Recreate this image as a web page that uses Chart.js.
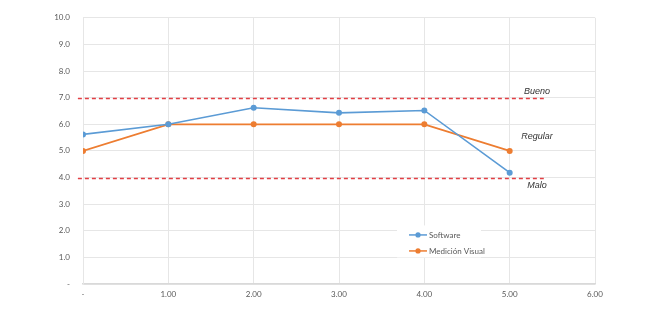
<!DOCTYPE html>
<html>
<head>
<meta charset="utf-8">
<script src="https://cdn.jsdelivr.net/npm/chart.js@4.4.1/dist/chart.umd.min.js"></script>
<style>
html,body{margin:0;padding:0;background:#fff;}
#wrap{width:648px;height:311px;position:relative;}
</style>
</head>
<body>
<div id="wrap"><canvas id="c" width="648" height="311"></canvas></div>
<script>
// ---- data ----
const xValues = [0, 1, 2, 3, 4, 5];
const softwareValues = [5.62, 6.0, 6.62, 6.43, 6.52, 4.18];
const visualValues = [5.0, 6.0, 6.0, 6.0, 6.0, 5.0];
const seriesNames = ['Software', 'Medición Visual'];
const thresholdValues = [7, 4];
const thresholdRange = [-0.06, 5.4];
const zoneLabels = ['Bueno', 'Regular', 'Malo'];
const zoneLabelValues = [7.25, 5.55, 3.7];
const zoneLabelX = 5.32;

const toPts = (ys) => xValues.map((x, i) => ({x: x, y: ys[i]}));

const thresholdPlugin = {
  id: 'thresholds',
  afterDatasetsDraw(chart) {
    const {ctx, scales: {x, y}} = chart;
    ctx.save();
    ctx.strokeStyle = '#E23F44';
    ctx.lineWidth = 1.5;
    ctx.setLineDash([4, 3]);
    thresholdValues.forEach(v => {
      const py = Math.round(y.getPixelForValue(v)) + 0.5;
      ctx.beginPath();
      ctx.moveTo(x.getPixelForValue(thresholdRange[0]), py);
      ctx.lineTo(x.getPixelForValue(thresholdRange[1]), py);
      ctx.stroke();
    });
    ctx.setLineDash([]);
    ctx.fillStyle = '#333333';
    ctx.font = 'italic 9px "Liberation Sans", Arial, sans-serif';
    ctx.textAlign = 'center';
    ctx.textBaseline = 'middle';
    zoneLabels.forEach((t, i) => {
      ctx.fillText(t, x.getPixelForValue(zoneLabelX), y.getPixelForValue(zoneLabelValues[i]));
    });
    ctx.restore();
  }
};

const legendPlugin = {
  id: 'innerLegend',
  afterDraw(chart) {
    const {ctx, scales: {x, y}} = chart;
    ctx.save();
    const left = x.getPixelForValue(3.68);
    const top = y.getPixelForValue(2.2);
    ctx.fillStyle = '#ffffff';
    ctx.fillRect(left, top, 84, 32);
    ctx.font = '8px Lato, "Open Sans", sans-serif';
    ctx.textBaseline = 'middle';
    ctx.textAlign = 'left';
    chart.data.datasets.forEach((ds, i) => {
      const cy = top + 9.5 + i * 16;
      const lx = left + 12;
      ctx.strokeStyle = ds.borderColor;
      ctx.lineWidth = 1.5;
      ctx.beginPath();
      ctx.moveTo(lx, cy);
      ctx.lineTo(lx + 18, cy);
      ctx.stroke();
      ctx.fillStyle = ds.borderColor;
      ctx.beginPath();
      ctx.arc(lx + 9, cy, 2.6, 0, Math.PI * 2);
      ctx.fill();
      ctx.fillStyle = '#595959';
      ctx.fillText(ds.label, lx + 20, cy + 0.5);
    });
    ctx.restore();
  }
};

new Chart(document.getElementById('c'), {
  type: 'scatter',
  data: {
    datasets: [
      {
        label: seriesNames[0],
        data: toPts(softwareValues),
        showLine: true,
        borderColor: '#5B9BD5',
        backgroundColor: '#5B9BD5',
        borderWidth: 1.6,
        pointRadius: 3,
        pointBorderWidth: 0,
        pointHoverRadius: 3
      },
      {
        label: seriesNames[1],
        data: toPts(visualValues),
        showLine: true,
        borderColor: '#ED7D31',
        backgroundColor: '#ED7D31',
        borderWidth: 1.8,
        pointRadius: 3,
        pointBorderWidth: 0,
        pointHoverRadius: 3
      }
    ]
  },
  options: {
    responsive: false,
    animation: false,
    layout: {padding: {left: 0, right: 53, top: 12, bottom: 0}},
    plugins: {legend: {display: false}, tooltip: {enabled: false}},
    scales: {
      x: {
        type: 'linear',
        min: 0, max: 6,
        ticks: {
          stepSize: 1,
          color: '#595959',
          font: {size: 8, family: 'Lato, "Open Sans", sans-serif'},
          padding: 6,
          callback: v => v === 0 ? '-' : v.toFixed(2)
        },
        grid: {color: '#E6E6E6', lineWidth: 1, drawTicks: false},
        border: {color: '#D9D9D9', width: 1.5},
        afterFit(s) { s.height = 27; }
      },
      y: {
        min: 0, max: 10,
        ticks: {
          stepSize: 1,
          color: '#595959',
          font: {size: 8, family: 'Lato, "Open Sans", sans-serif'},
          padding: 13,
          callback: v => v === 0 ? '-' : v.toFixed(1)
        },
        grid: {color: '#E6E6E6', lineWidth: 1, drawTicks: false},
        border: {color: '#E6E6E6'},
        afterFit(s) { s.width = 83; }
      }
    }
  },
  plugins: [thresholdPlugin, legendPlugin]
});
</script>
</body>
</html>
